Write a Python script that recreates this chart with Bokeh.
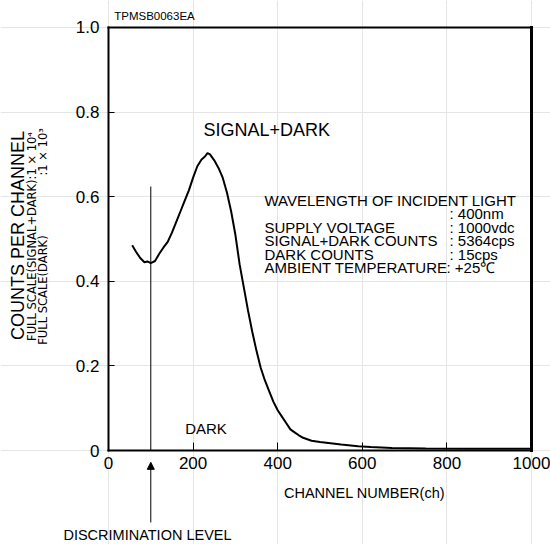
import math
from bokeh.plotting import figure
from bokeh.models import (Label, Arrow, NormalHead, FixedTicker, Range1d,
                          ColumnDataSource, LinearAxis)
from bokeh.embed import file_html
from bokeh.resources import INLINE

# ---- data ----
channel = [56, 65, 75, 85, 92, 100, 110, 120, 130, 140, 150, 160, 170, 180, 190,
           200, 210, 220, 228, 234, 240, 250, 260, 270, 280, 290, 300, 310, 320,
           330, 340, 350, 360, 370, 380, 390, 400, 410, 420, 430, 440, 450, 460,
           480, 500, 525, 550, 590, 620, 670, 750, 850, 1000]
counts = [0.485, 0.470, 0.455, 0.445, 0.447, 0.443, 0.448, 0.465, 0.480, 0.493,
          0.515, 0.540, 0.565, 0.590, 0.615, 0.645, 0.672, 0.688, 0.695, 0.703,
          0.700, 0.686, 0.668, 0.645, 0.610, 0.565, 0.510, 0.440, 0.385, 0.330,
          0.280, 0.235, 0.195, 0.165, 0.140, 0.115, 0.095, 0.080, 0.065, 0.050,
          0.043, 0.036, 0.030, 0.023, 0.020, 0.017, 0.014, 0.010, 0.008, 0.006,
          0.005, 0.004, 0.004]

x_ticks = [0, 200, 400, 600, 800, 1000]
y_ticks = [0, 0.2, 0.4, 0.6, 0.8, 1.0]
y_tick_labels = ["0", "0.2", "0.4", "0.6", "0.8", "1.0"]

disc_level = 100          # channel of the discrimination level
disc_line_top = 0.624     # height of the discrimination line

info_labels = ["WAVELENGTH OF INCIDENT LIGHT", "SUPPLY VOLTAGE",
               "SIGNAL+DARK COUNTS", "DARK COUNTS", "AMBIENT TEMPERATURE"]
info_values = [": 400nm", ": 1000vdc", ": 5364cps", ": 15cps", ": +25\u2103"]

FONT = "Liberation Sans"

W, H = 550, 544
# the frame fills the whole canvas; the data box (0..1000, 0..1) sits inside it
p = figure(width=W, height=H, output_backend="svg", toolbar_location=None,
           x_range=Range1d(-255.3, 1044.9), y_range=Range1d(-0.2222, 1.0638),
           x_axis_location=None, y_axis_location=None,
           min_border=0, min_border_left=0, min_border_right=0,
           min_border_top=0, min_border_bottom=0)
p.background_fill_color = "white"
p.border_fill_color = "white"
p.outline_line_color = None


def styled(ax, tick_in, lw=2):
    ax.axis_line_width = lw
    ax.axis_line_color = "black"
    ax.axis_line_cap = "square"
    ax.major_tick_out = 0
    ax.major_tick_in = tick_in
    ax.major_tick_line_color = "black"
    ax.major_tick_line_width = 1
    ax.minor_tick_line_color = None
    ax.major_label_text_font = FONT
    ax.major_label_text_font_size = "17px"
    ax.major_label_text_color = "black"
    return ax


xaxis = styled(LinearAxis(fixed_location=0, bounds=(0, 1000),
                          ticker=FixedTicker(ticks=x_ticks)), 8)
xaxis.major_label_standoff = 6
p.add_layout(xaxis, "below")

yaxis = styled(LinearAxis(fixed_location=0, bounds=(0, 1.0),
                          ticker=FixedTicker(ticks=y_ticks)), 6)
yaxis.major_label_overrides = {t: l for t, l in zip(y_ticks, y_tick_labels)}
yaxis.major_label_standoff = 9
p.add_layout(yaxis, "left")

top_axis = styled(LinearAxis(fixed_location=1.0, bounds=(0, 1000),
                             ticker=FixedTicker(ticks=[])), 0)
top_axis.major_tick_line_color = None
top_axis.major_label_text_color = None
p.add_layout(top_axis, "above")

right_axis = styled(LinearAxis(fixed_location=1000, bounds=(0, 1.0),
                               ticker=FixedTicker(ticks=[])), 0, lw=3)
right_axis.major_tick_line_color = None
right_axis.major_label_text_color = None
p.add_layout(right_axis, "right")

src = ColumnDataSource(dict(x=channel, y=counts))
p.line("x", "y", source=src, line_color="black", line_width=2)

# discrimination level line
p.segment(x0=[disc_level], y0=[0], x1=[disc_level], y1=[disc_line_top],
          line_color="black", line_width=1)

# arrow below the axis
p.add_layout(Arrow(end=NormalHead(size=7, fill_color="black", line_color="black", line_width=1),
                   x_start=disc_level, y_start=-0.170, x_end=disc_level, y_end=-0.028,
                   line_color="black", line_width=1))


def lab(text, x, y, size, align="left", baseline="middle", angle=0.0, font=FONT):
    p.add_layout(Label(x=x, y=y, text=text, text_font=font, text_font_size=size,
                       text_align=align, text_baseline=baseline, angle=angle,
                       text_color="black"))


lab("TPMSB0063EA", 108.7, 1.028, "11.5px", align="center")
lab("SIGNAL+DARK", 224.6, 0.7565, "18px")
lab("DARK", 230.5, 0.052, "15px", align="center")

info_y = [0.5910, 0.5272, 0.4965, 0.4634, 0.4326]
value_y = [0.5603, 0.5272, 0.4965, 0.4634, 0.4326]
value_x = [806.1, 806.1, 806.1, 806.1, 799.0]
for t, yy in zip(info_labels, info_y):
    lab(t, 368.8, yy, "15px")
for t, xx, yy in zip(info_values, value_x, value_y):
    lab(t, xx, yy, "15px")

lab("CHANNEL NUMBER(ch)", 605.2, -0.0993, "14.5px", align="center")
lab("DISCRIMINATION LEVEL", 92.2, -0.2009, "14.5px", align="center")

# y-axis titles (rotated)
lab("COUNTS PER CHANNEL", -212.8, 0.5083, "18px", align="center", angle=math.pi / 2)
lab("FULL SCALE(SIGNAL+DARK):1 \u00d7 10\u2074", -180.0, 0.5059, "11.5px",
    align="center", angle=math.pi / 2, font="DejaVu Sans")
lab("FULL SCALE(DARK)", -154.0, 0.250, "11.5px", align="left", angle=math.pi / 2,
    font="DejaVu Sans")
lab(":1 \u00d7 10\u00b3", -154.0, 0.762, "11.5px", align="right", angle=math.pi / 2,
    font="DejaVu Sans")

open("out.html", "w").write(file_html(p, INLINE))
